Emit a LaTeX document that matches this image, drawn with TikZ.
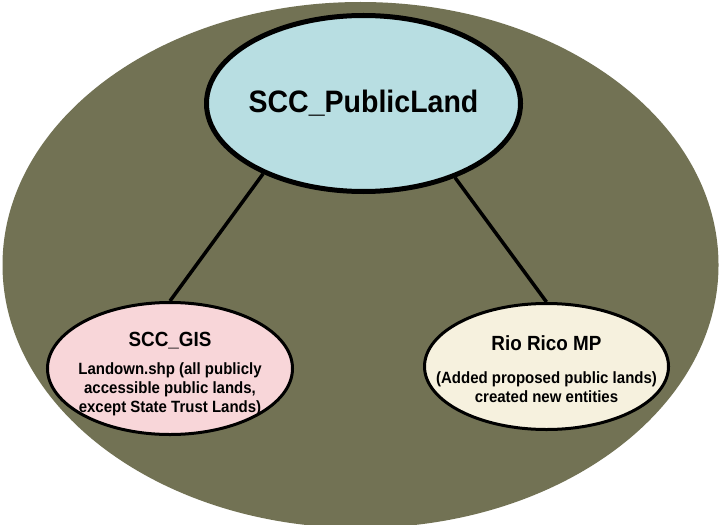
\documentclass[tikz,border=0pt]{standalone}
\usepackage{xcolor}
\usepackage{fontspec}
\setmainfont{Liberation Sans}[FakeStretch=0.92]
\usepackage{tikz}
\usetikzlibrary{positioning, shapes.geometric}

\definecolor{olivebg}{RGB}{114,114,84}
\definecolor{bluefill}{RGB}{184,222,226}
\definecolor{pinkfill}{RGB}{248,214,217}
\definecolor{creamfill}{RGB}{246,241,222}

\tikzset{
    ellbox/.style={draw=black, ellipse, inner sep=0pt, line width=3pt},
    txt/.style={align=center, font=\bfseries\fontsize{16.3}{19}\selectfont},
    conn/.style={draw=black, line width=3.5pt}
}

\begin{document}
\begin{tikzpicture}[x=1pt, y=-1pt]
        \useasboundingbox[fill=white] (0,0) rectangle (719,524);
        \clip (0,0) rectangle (719,524);
        \fill[olivebg] (360.5,265) ellipse [x radius=358, y radius=263];

        \node[ellbox, fill=bluefill, line width=5pt, minimum width=314pt, minimum height=176pt] (top) at (363.5,103.5) {};
        \node[ellbox, fill=pinkfill, minimum width=245pt, minimum height=132pt] (gis) at (170,368.5) {};
        \node[ellbox, fill=creamfill, minimum width=244pt, minimum height=126pt] (rio) at (546.5,366.5) {};

        \draw[conn] (top.215) -- (gis.north);
        \draw[conn] (top.321) -- (rio.north);

        \node[anchor=base, font=\bfseries\fontsize{31}{36}\selectfont] (toptext) at (363.5,112) {SCC\_PublicLand};
        \node[txt] (gistext) at (170,374) {{\fontsize{20.5}{24}\selectfont SCC\_GIS}\\[9pt]
            Landown.shp (all publicly\\ accessible public lands,\\ except State Trust Lands)};
        \node[txt] (riotext) at (546.5,369) {{\fontsize{20.5}{24}\selectfont Rio Rico MP}\\[14pt]
            (Added proposed public lands)\\ created new entities};
    \end{tikzpicture}
\end{document}
